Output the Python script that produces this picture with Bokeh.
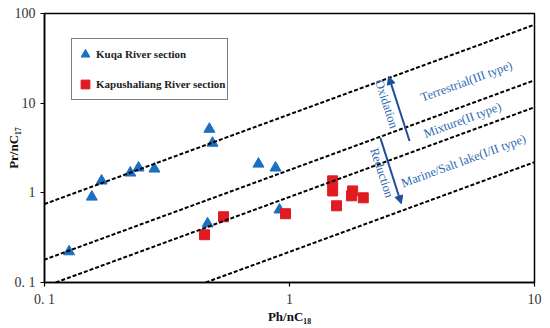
from bokeh.plotting import figure
from bokeh.models import (Slope, Arrow, NormalHead, Label, Legend, LegendItem,
                          FixedTicker)
from bokeh.embed import file_html
from bokeh.resources import INLINE

# ---- data ----
kuqa_ph = [0.126, 0.156, 0.171, 0.224, 0.242, 0.281, 0.471, 0.485, 0.463, 0.747, 0.877, 0.91]
kuqa_pr = [0.221, 0.90, 1.36, 1.67, 1.90, 1.85, 5.14, 3.59, 0.453, 2.10, 1.90, 0.647]
kapu_ph = [0.45, 0.538, 0.963, 1.50, 1.50, 1.556, 1.81, 1.79, 2.0]
kapu_pr = [0.341, 0.541, 0.585, 1.36, 1.05, 0.717, 1.05, 0.926, 0.88]
# Pr/Ph ratio reference lines (y = k * x)
line_ratios = [7.5, 1.8, 0.9, 0.22]
x_ticks = [0.1, 1, 10]
x_tick_labels = ["0. 1", "1", "10"]
y_ticks = [0.1, 1, 10, 100]
y_tick_labels = ["0. 1", "1", "10", "100"]

SERIF = "Liberation Serif"
BLUE_TXT = "#2d6ab2"
ARROW_C = "#1f4f9a"

p = figure(frame_width=490, frame_height=269, x_axis_type="log", y_axis_type="log",
           x_range=(0.1, 10), y_range=(0.1, 100),
           output_backend="svg", toolbar_location=None,
           min_border_left=44, min_border_right=14, min_border_top=13, min_border_bottom=44)
p.grid.visible = False
p.outline_line_color = "black"
p.outline_line_width = 1.5
p.background_fill_color = "white"
p.border_fill_color = "white"

for ax, ticks, labels in ((p.xaxis[0], x_ticks, x_tick_labels), (p.yaxis[0], y_ticks, y_tick_labels)):
    ax.ticker = FixedTicker(ticks=ticks, minor_ticks=[])
    ax.major_label_overrides = {t: l for t, l in zip(ticks, labels)}
    ax.major_tick_in = 0
    ax.major_tick_out = 4
    ax.minor_tick_out = 0
    ax.minor_tick_in = 0
    ax.axis_line_color = "black"
    ax.axis_line_width = 1.5
    ax.major_tick_line_color = "black"
    ax.major_tick_line_width = 1.2
    ax.major_label_text_font = SERIF
    ax.major_label_text_font_size = "14px"
    ax.major_label_text_color = "#333333"
    ax.axis_label_text_font = SERIF
    ax.axis_label_text_font_style = "bold"
    ax.axis_label_text_font_size = "13px"
    ax.axis_label_text_color = "#111111"

p.xaxis.axis_label = "Ph/nC₁₈"
p.xaxis.major_label_standoff = 5
p.xaxis.axis_label_standoff = -1
p.yaxis.axis_label = "Pr/nC₁₇"
p.yaxis.major_label_standoff = 5
p.yaxis.axis_label_standoff = -9

for k in line_ratios:
    p.add_layout(Slope(gradient=k, y_intercept=0, line_color="black",
                       line_width=2, line_dash="4 2"))

tri = p.scatter(kuqa_ph, kuqa_pr, marker="triangle", size=11,
                fill_color="#1a6fc0", line_color="#1a6fc0")
sq = p.scatter(kapu_ph, kapu_pr, marker="square", size=10,
               fill_color="#e01b22", line_color="#e01b22")

legend = Legend(items=[LegendItem(label="Kuqa River section", renderers=[tri]),
                       LegendItem(label="Kapushaliang River section", renderers=[sq])],
                location=(27, 182), orientation="vertical",
                glyph_width=22, glyph_height=26, label_height=26,
                spacing=4, padding=2, margin=0, label_standoff=-10,
                label_text_font=SERIF, label_text_font_size="11px",
                label_text_font_style="bold", label_text_color="#222222",
                border_line_color="black", border_line_width=1.2,
                background_fill_alpha=1.0)
p.add_layout(legend)

# arrows
p.add_layout(Arrow(x_start=3.09, y_start=3.78, x_end=2.54, y_end=19.9,
                   line_color=ARROW_C, line_width=2,
                   end=NormalHead(size=8, fill_color=ARROW_C, line_color=ARROW_C)))
p.add_layout(Arrow(x_start=2.35, y_start=4.08, x_end=2.86, y_end=0.755,
                   line_color=ARROW_C, line_width=2,
                   end=NormalHead(size=8, fill_color=ARROW_C, line_color=ARROW_C)))

ann = [
    ("Oxidation", 2.49, 9.75, -1.257),
    ("Reduction", 2.38, 1.67, -1.257),
    ("Terrestrial(III type)", 5.28, 17.5, 0.352),
    ("Mixture(II type)", 5.08, 6.47, 0.352),
    ("Marine/Salt lake(I/II type)", 5.13, 2.27, 0.352),
]
for txt, x, y, a in ann:
    p.add_layout(Label(x=x, y=y, text=txt, angle=a, text_align="center",
                       text_baseline="middle", text_font=SERIF,
                       text_font_size="12.5px", text_color=BLUE_TXT))

open("out.html", "w").write(file_html(p, INLINE))
